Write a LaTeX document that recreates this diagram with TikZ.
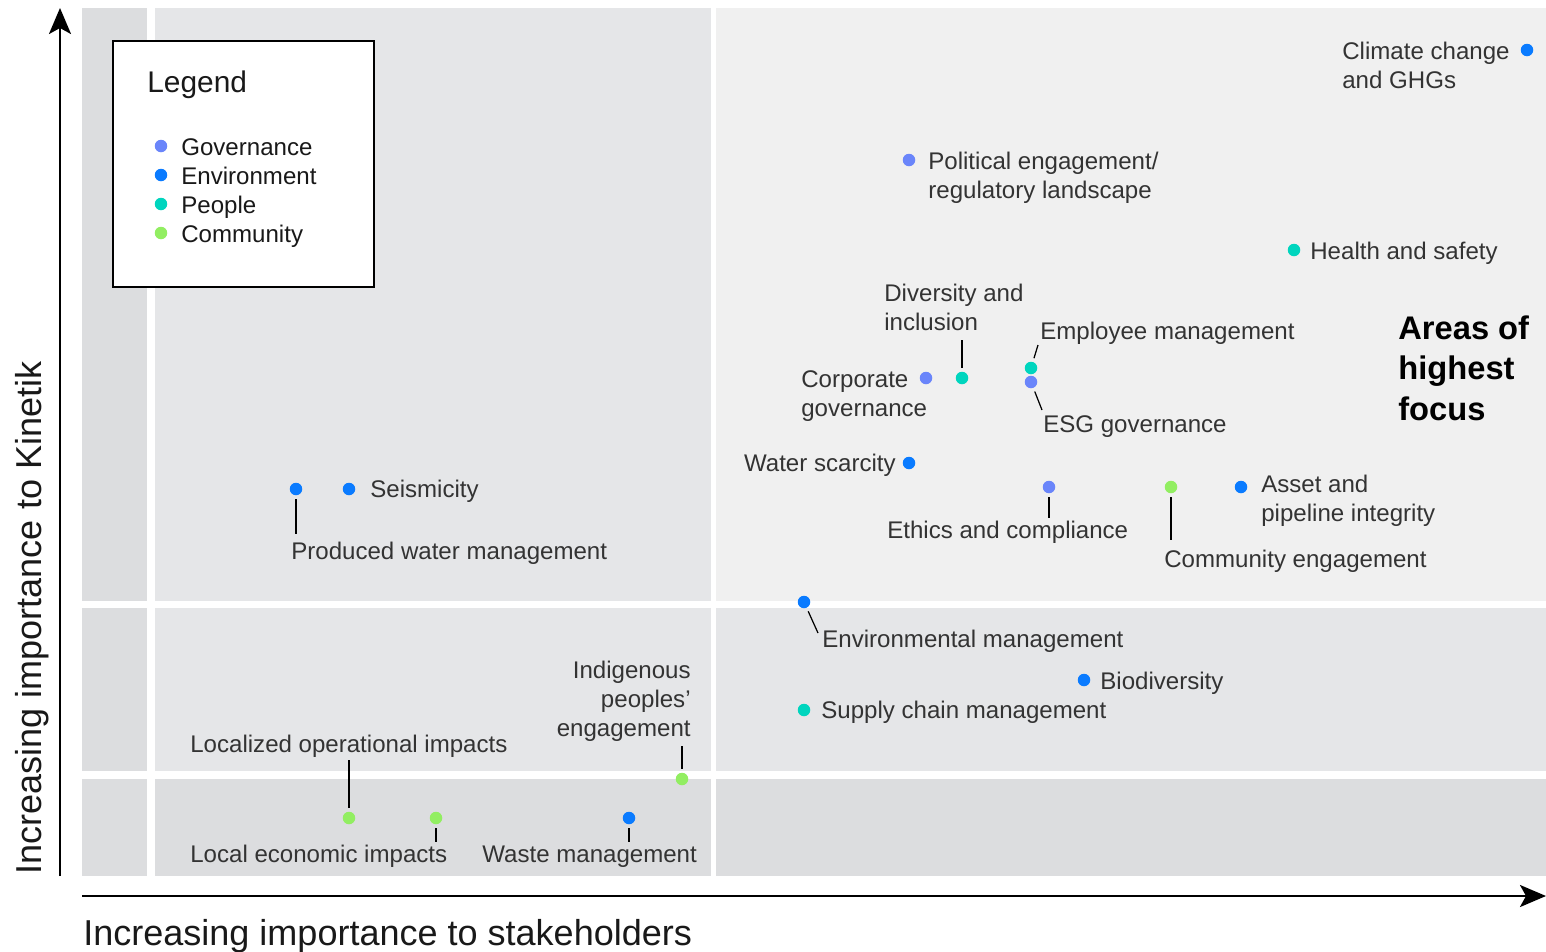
\documentclass[tikz,border=0pt]{standalone}
\usepackage{fontspec}
\setmainfont{Liberation Sans}
\usetikzlibrary{arrows.meta}

\definecolor{gov}{HTML}{6A85FA}
\definecolor{env}{HTML}{0A7BFF}
\definecolor{ppl}{HTML}{00D5BE}
\definecolor{com}{HTML}{92EE62}
\definecolor{pale}{HTML}{F0F0F0}
\definecolor{mid}{HTML}{E5E6E8}
\definecolor{deep}{HTML}{DCDDDF}
\definecolor{ink}{HTML}{333333}

\begin{document}
\begin{tikzpicture}[x=0.02cm, y=-0.02cm,
	dot/.style={circle, inner sep=0, outer sep=0, minimum size=0.25cm},
	lbl/.style={font=\fontsize{13.7}{16.5}\selectfont, text=ink, inner sep=0, align=left},
	lead/.style={line width=0.7pt, shorten <=0.08cm},
	axis/.style={line width=1.4pt, -{Stealth[length=0.52cm, width=0.44cm, inset=0.12cm]}},
	axlabel/.style={font=\fontsize{20.5}{24}\selectfont, text=black!90, inner sep=0}]

	\useasboundingbox (0,0) rectangle (1546,951);

	% background panels
	\fill[deep] (82,8) rectangle (147,601);
	\fill[deep] (82,608) rectangle (147,771);
	\fill[deep] (82,779) rectangle (147,876);
	\fill[mid] (155,8) rectangle (711,601);
	\fill[mid] (155,608) rectangle (711,771);
	\fill[deep] (155,779) rectangle (711,876);
	\fill[pale] (716,8) rectangle (1546,601);
	\fill[mid] (716,608) rectangle (1546,771);
	\fill[deep] (716,779) rectangle (1546,876);

	% axes
	\coordinate (origin) at (60,876);
	\coordinate (ytop) at (60,8);
	\coordinate (xstart) at (82,896);
	\coordinate (xend) at (1546,896);
	\draw[axis] (origin) -- (ytop);
	\draw[axis] (xstart) -- (xend);
	\node[axlabel, rotate=90, anchor=base] (ylabel) at (41,618) {Increasing importance to Kinetik};
	\node[axlabel, anchor=base west] (xlabel) at (83,945) {Increasing importance to stakeholders};

	% legend
	\draw[line width=1.4pt, fill=white] (113,41) rectangle (374,287);
	\node[anchor=base west, inner sep=0, font=\fontsize{17}{20}\selectfont, text=black!90] (legend) at (147,92) {Legend};
	\foreach \c/\t [count=\i] in {gov/Governance, env/Environment, ppl/People, com/Community} {
		\node[dot, fill=\c] (key\i) at (161,{146+29*(\i-1)}) {};
		\node[lbl, anchor=base west, text=black!90] (keytext\i) at (181,{155+29*(\i-1)}) {\t};
	}

	% highest focus quadrant
	\node[dot, fill=env] (ghg) at (1527,50) {};
	\node[lbl, anchor=north west] (ghg-t) at (1342,42) {Climate change\\and GHGs};
	\node[dot, fill=gov] (pol) at (909,160) {};
	\node[lbl, anchor=north west] (pol-t) at (928,152) {Political engagement/\\regulatory landscape};
	\node[dot, fill=ppl] (hs) at (1294,250) {};
	\node[lbl, anchor=base west] (hs-t) at (1310,259) {Health and safety};
	\node[anchor=north west, inner sep=0, align=left, font=\bfseries\fontsize{18.6}{23.3}\selectfont] (focus) at (1398,315) {Areas of\\highest\\focus};

	\node[lbl, anchor=north west] (div-t) at (884,284) {Diversity and\\inclusion};
	\node[dot, fill=ppl] (div) at (962,378) {};
	\coordinate (div-l) at (962,340);
	\draw[lead] (div) -- (div-l);
	\node[dot, fill=gov] (cg) at (926,378) {};
	\node[lbl, anchor=north west] (cg-t) at (801,370) {Corporate\\governance};
	\node[dot, fill=ppl] (emp) at (1031,368) {};
	\node[lbl, anchor=base west] (emp-t) at (1040,339) {Employee management};
	\coordinate (emp-l) at (1038,345);
	\draw[lead] (emp) -- (emp-l);
	\node[dot, fill=gov] (esg) at (1031,382) {};
	\node[lbl, anchor=base west] (esg-t) at (1043,432) {ESG governance};
	\coordinate (esg-l) at (1042,410);
	\draw[lead] (esg) -- (esg-l);

	\node[dot, fill=env] (ws) at (909,463) {};
	\node[lbl, anchor=base east] (ws-t) at (896,471) {Water scarcity};
	\node[dot, fill=gov] (eth) at (1049,487) {};
	\coordinate (eth-l) at (1049,518);
	\draw[lead] (eth) -- (eth-l);
	\node[lbl, anchor=base west] (eth-t) at (887,538) {Ethics and compliance};
	\node[dot, fill=com] (ce) at (1171,487) {};
	\coordinate (ce-l) at (1171,540);
	\draw[lead] (ce) -- (ce-l);
	\node[lbl, anchor=base west] (ce-t) at (1164,567) {Community engagement};
	\node[dot, fill=env] (api) at (1241,487) {};
	\node[lbl, anchor=north west] (api-t) at (1261,475) {Asset and\\pipeline integrity};

	% middle band
	\node[dot, fill=env] (em) at (804,602) {};
	\coordinate (em-l) at (818,633);
	\draw[lead] (em) -- (em-l);
	\node[lbl, anchor=base west] (em-t) at (822,647) {Environmental management};
	\node[dot, fill=env] (bio) at (1084,680) {};
	\node[lbl, anchor=base west] (bio-t) at (1100,689) {Biodiversity};
	\node[dot, fill=ppl] (scm) at (804,710) {};
	\node[lbl, anchor=base west] (scm-t) at (821,718) {Supply chain management};

	% left column
	\node[dot, fill=env] (seis) at (349,489) {};
	\node[lbl, anchor=base west] (seis-t) at (370,497) {Seismicity};
	\node[dot, fill=env] (pwm) at (296,489) {};
	\coordinate (pwm-l) at (296,534);
	\draw[lead] (pwm) -- (pwm-l);
	\node[lbl, anchor=base west] (pwm-t) at (291,559) {Produced water management};

	\node[lbl, anchor=north east, align=right] (ind-t) at (691,661) {Indigenous\\peoples’\\engagement};
	\node[dot, fill=com] (ind) at (682,779) {};
	\coordinate (ind-l) at (682,746);
	\draw[lead] (ind) -- (ind-l);
	\node[lbl, anchor=base west] (loc-t) at (190,752) {Localized operational impacts};
	\node[dot, fill=com] (loc) at (349,818) {};
	\coordinate (loc-l) at (349,760);
	\draw[lead] (loc) -- (loc-l);
	\node[dot, fill=com] (leco) at (436,818) {};
	\coordinate (leco-l) at (436,842);
	\draw[lead] (leco) -- (leco-l);
	\node[lbl, anchor=base west] (leco-t) at (190,862) {Local economic impacts};
	\node[dot, fill=env] (wm) at (629,818) {};
	\coordinate (wm-l) at (629,842);
	\draw[lead] (wm) -- (wm-l);
	\node[lbl, anchor=base west] (wm-t) at (482,862) {Waste management};
\end{tikzpicture}
\end{document}
